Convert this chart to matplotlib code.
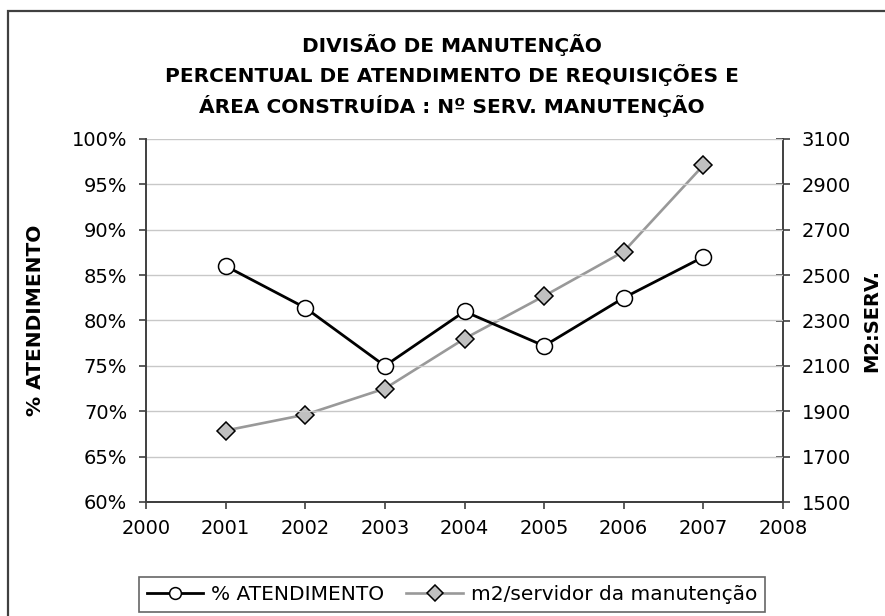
import matplotlib.pyplot as plt
from matplotlib.patches import Rectangle

# dados
anos = [2001, 2002, 2003, 2004, 2005, 2006, 2007]
atendimento = [86.0, 81.4, 75.0, 81.0, 77.2, 82.5, 87.0]
m2_servidor = [1815, 1885, 2000, 2220, 2408, 2604, 2984]

pct_ticks = [60, 65, 70, 75, 80, 85, 90, 95, 100]
m2_ticks = [1500, 1700, 1900, 2100, 2300, 2500, 2700, 2900, 3100]
x_ticks = [2000, 2001, 2002, 2003, 2004, 2005, 2006, 2007, 2008]

titulo = ("DIVISÃO DE MANUTENÇÃO\n"
          "PERCENTUAL DE ATENDIMENTO DE REQUISIÇÕES E\n"
          "ÁREA CONSTRUÍDA : Nº SERV. MANUTENÇÃO")

plt.rcParams['font.family'] = 'DejaVu Sans'

fig = plt.figure(figsize=(8.85, 6.16), dpi=100)
W, H = 885, 616
x0, x1, y0, y1 = 146, 783, 139, 502
ax = fig.add_axes([x0 / W, 1 - y1 / H, (x1 - x0) / W, (y1 - y0) / H])
ax2 = ax.twinx()

# moldura externa (cortada à direita e embaixo)
fig.patches.append(Rectangle((8 / W, -0.1), 1.2, 1 - 11 / H + 0.1,
                             transform=fig.transFigure, fill=False,
                             edgecolor='#404040', linewidth=1.6))

ax.set_xlim(2000, 2008)
ax.set_ylim(60, 100)
ax2.set_ylim(1500, 3100)
ax.set_xticks(x_ticks)
ax.set_yticks(pct_ticks)
ax.set_yticklabels([f'{v}%' for v in pct_ticks])
ax2.set_yticks(m2_ticks)
ax.grid(axis='y', color='#c8c8c8', linewidth=1)
ax.set_axisbelow(True)

for a in (ax, ax2):
    a.spines['top'].set_visible(False)
    for s in ['left', 'right', 'bottom']:
        a.spines[s].set_color('#404040')
        a.spines[s].set_linewidth(1.4)
ax.spines['right'].set_visible(False)
ax2.spines['left'].set_visible(False)

ax.tick_params(axis='both', labelsize=14, length=5, color='#404040', width=1.2)
ax.tick_params(axis='y', pad=8.5)
ax.tick_params(axis='x', pad=7)
ax2.tick_params(axis='y', labelsize=14, direction='inout', length=10,
                color='#404040', width=1.2, pad=8.5)

l2, = ax2.plot(anos, m2_servidor, color='#999999', linewidth=1.9, marker='D',
               markersize=9, markerfacecolor='#c0c0c0', markeredgecolor='black',
               markeredgewidth=1.1, zorder=3)
l1, = ax.plot(anos, atendimento, color='black', linewidth=2.0, marker='o',
              markersize=11.5, markerfacecolor='white', markeredgecolor='black',
              markeredgewidth=1.1, zorder=4)
ax.set_zorder(ax2.get_zorder() + 1)
ax.patch.set_visible(False)

yc = 1 - (y0 + y1) / 2 / H
fig.text(36 / W, yc, '% ATENDIMENTO', rotation=90, ha='center', va='center',
         fontsize=14.5, fontweight='bold')
fig.text(872 / W, yc, 'M2:SERV.', rotation=90, ha='center', va='center',
         fontsize=14, fontweight='bold')

fig.text(452 / W, 1 - 75.5 / H, titulo, ha='center', va='center',
         fontsize=14.5, fontweight='bold', linespacing=1.47)

leg = fig.legend([l1, l2], ['% ATENDIMENTO', 'm2/servidor da manutenção'],
                 loc='upper center', bbox_to_anchor=(452 / W, 1 - 577 / H), ncol=2,
                 fontsize=14.5, frameon=True, fancybox=False, edgecolor='#404040',
                 handlelength=2.8, handletextpad=0.4, columnspacing=1.1,
                 borderpad=0.4, borderaxespad=0)
leg.get_frame().set_linewidth(1.2)
for h in leg.legend_handles:
    h.set_markersize(8.5)

fig.savefig('out.png', dpi=100)
